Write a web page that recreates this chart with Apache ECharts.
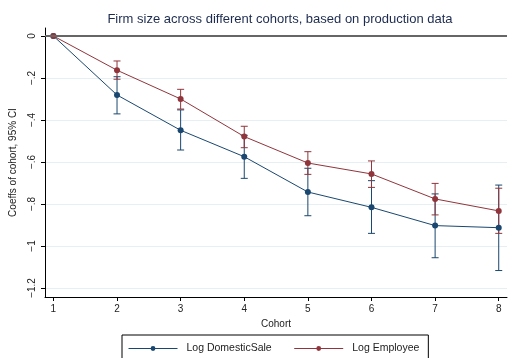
<!DOCTYPE html>
<html><head><meta charset="utf-8">
<script src="https://cdn.jsdelivr.net/npm/echarts@6/dist/echarts.min.js"></script>
<style>html,body{margin:0;padding:0;background:#fff}#c{width:512px;height:358px}</style>
</head><body><div id="c"></div>
<script>
const cohorts = [1, 2, 3, 4, 5, 6, 7, 8];
const saleCoef = [0, -0.281, -0.449, -0.575, -0.743, -0.816, -0.903, -0.913];
const saleLow  = [0, -0.371, -0.543, -0.678, -0.856, -0.940, -1.056, -1.117];
const saleHigh = [0, -0.194, -0.352, -0.473, -0.630, -0.689, -0.752, -0.710];
const empCoef  = [0, -0.163, -0.300, -0.479, -0.605, -0.657, -0.776, -0.833];
const empLow   = [0, -0.206, -0.348, -0.532, -0.659, -0.721, -0.852, -0.940];
const empHigh  = [0, -0.119, -0.254, -0.430, -0.551, -0.595, -0.702, -0.725];
const yTicks = [0, -0.2, -0.4, -0.6, -0.8, -1, -1.2];
const xTicks = [1, 2, 3, 4, 5, 6, 7, 8];
const names = ['Log DomesticSale', 'Log Employee'];

const BLUE = '#1a476f', RED = '#90353b';
const font = 'Liberation Sans, Arial, sans-serif';

function ciSeries(low, high, color) {
  return {
    type: 'custom',
    data: cohorts.map((c, i) => [c, low[i], high[i]]),
    renderItem: function (params, api) {
      const x = api.value(0);
      const lo = api.coord([x, api.value(1)]);
      const hi = api.coord([x, api.value(2)]);
      const w = 3.5;
      const st = { stroke: color, lineWidth: 1 };
      return {
        type: 'group',
        children: [
          { type: 'line', shape: { x1: lo[0], y1: lo[1], x2: hi[0], y2: hi[1] }, style: st },
          { type: 'line', shape: { x1: lo[0] - w, y1: lo[1], x2: lo[0] + w, y2: lo[1] }, style: st },
          { type: 'line', shape: { x1: hi[0] - w, y1: hi[1], x2: hi[0] + w, y2: hi[1] }, style: st }
        ]
      };
    },
    silent: true
  };
}

function lineSeries(name, vals, color) {
  return {
    name: name,
    type: 'line',
    data: cohorts.map((c, i) => [c, vals[i]]),
    symbol: 'circle',
    symbolSize: 6,
    itemStyle: { color: color },
    lineStyle: { color: color, width: 1 },
    animation: false
  };
}

const zeroLine = {
  silent: true, symbol: 'none', label: { show: false },
  lineStyle: { color: '#666666', width: 2, type: 'solid' },
  data: [{ yAxis: 0 }]
};

const chart = echarts.init(document.getElementById('c'), null, { renderer: 'canvas' });
const s1 = lineSeries(names[0], saleCoef, BLUE);
s1.markLine = zeroLine;
chart.setOption({
  animation: false,
  backgroundColor: '#fff',
  title: {
    text: 'Firm size across different cohorts, based on production data',
    left: 275, top: 8, textAlign: 'center',
    textStyle: { fontFamily: font, fontSize: 13, fontWeight: 'normal', color: '#1c2b4f' }
  },
  grid: { left: 43, right: 5, top: 28, bottom: 61 },
  xAxis: {
    type: 'value', min: 0.868, max: 8.13,
    name: 'Cohort', nameLocation: 'middle', nameGap: 20,
    nameTextStyle: { fontFamily: font, fontSize: 10, color: '#222' },
    axisLine: { show: true, onZero: false, lineStyle: { color: '#000', width: 1 } },
    axisTick: { show: true, customValues: xTicks, length: 4, lineStyle: { color: '#000' } },
    axisLabel: { customValues: xTicks, margin: 7, fontFamily: font, fontSize: 10, color: '#222' },
    splitLine: { show: false }
  },
  yAxis: {
    type: 'value', min: -1.243, max: 0.038,
    name: 'Coeffs of cohort, 95% CI', nameLocation: 'middle', nameGap: 27,
    nameTextStyle: { fontFamily: font, fontSize: 10, color: '#222' },
    axisLine: { show: true, onZero: false, lineStyle: { color: '#000', width: 1 } },
    axisTick: { show: true, customValues: yTicks, length: 4, lineStyle: { color: '#000' } },
    axisLabel: {
      customValues: yTicks, rotate: 90, margin: 8, fontFamily: font, fontSize: 10, color: '#222',
      formatter: function (v) {
        if (Math.abs(v) < 1e-9) return '0';
        const a = Math.abs(Math.round(v * 10) / 10);
        return '\u2212' + String(a).replace(/^0/, '');
      }
    },
    splitLine: { show: true, lineStyle: { color: '#e6eff1', width: 1 } }
  },
  legend: {
    data: names,
    left: 122, top: 335,
    orient: 'horizontal',
    borderColor: '#000', borderWidth: 1,
    padding: [8, 9, 12, 6],
    itemWidth: 49, itemHeight: 6, itemGap: 22,
    lineStyle: { width: 1 },
    textStyle: { fontFamily: font, fontSize: 10.5, color: '#222', padding: [0, 0, 0, 4] }
  },
  series: [
    ciSeries(saleLow, saleHigh, BLUE),
    s1,
    ciSeries(empLow, empHigh, RED),
    lineSeries(names[1], empCoef, RED)
  ]
});
</script></body></html>
